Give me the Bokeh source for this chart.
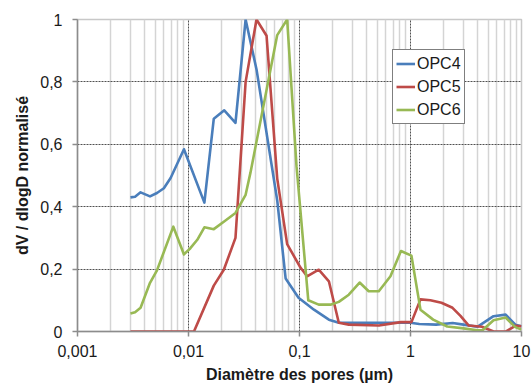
from bokeh.plotting import figure
from bokeh.models import Range1d, FixedTicker, CustomJSTickFormatter, Legend, LegendItem
from bokeh.embed import file_html
from bokeh.resources import INLINE

# ---- data (diameter in µm, normalised dV/dlogD) ----
opc4_d = [0.003, 0.0033, 0.0037, 0.0045, 0.0052, 0.006, 0.0069, 0.0091, 0.0139, 0.0169,
          0.021, 0.0265, 0.0327, 0.041, 0.063, 0.075, 0.098, 0.135, 0.184, 0.226,
          0.5, 1.0, 1.2, 1.7, 2.4, 3.0, 4.0, 5.6, 7.2, 8.8, 10.0]
opc4_v = [0.43, 0.432, 0.446, 0.433, 0.444, 0.459, 0.492, 0.584, 0.413, 0.682,
          0.709, 0.669, 1.0, 0.84, 0.42, 0.17, 0.108, 0.07, 0.038, 0.028,
          0.028, 0.028, 0.024, 0.022, 0.027, 0.022, 0.015, 0.049, 0.054, 0.022, 0.017]

opc5_d = [0.003, 0.0112, 0.0169, 0.0208, 0.0265, 0.0327, 0.041, 0.0505, 0.063, 0.0774,
          0.102, 0.117, 0.149, 0.184, 0.226, 0.278, 0.52, 0.82, 1.02, 1.23,
          1.51, 1.9, 2.39, 2.82, 3.35, 4.4, 5.6, 7.2, 8.8, 10.0]
opc5_v = [0.0, 0.0, 0.147, 0.198, 0.30, 0.80, 1.0, 0.948, 0.49, 0.28,
          0.205, 0.177, 0.198, 0.161, 0.028, 0.022, 0.019, 0.03, 0.03, 0.103,
          0.10, 0.092, 0.076, 0.05, 0.019, 0.015, 0.0, 0.0, 0.018, 0.017]

opc6_d = [0.003, 0.0033, 0.0037, 0.0045, 0.0052, 0.0073, 0.0091, 0.0104, 0.012, 0.0139,
          0.0169, 0.0208, 0.0265, 0.0327, 0.0362, 0.063, 0.0774, 0.094, 0.12, 0.149,
          0.19, 0.226, 0.278, 0.348, 0.42, 0.518, 0.66, 0.82, 1.02, 1.23,
          1.6, 2.14, 3.0, 4.0, 4.45, 5.6, 7.2, 8.8, 10.0]
opc6_v = [0.058, 0.062, 0.076, 0.156, 0.196, 0.336, 0.247, 0.267, 0.294, 0.334,
          0.328, 0.352, 0.38, 0.438, 0.51, 0.95, 1.0, 0.53, 0.10, 0.086,
          0.086, 0.095, 0.118, 0.157, 0.129, 0.129, 0.177, 0.258, 0.243, 0.07,
          0.038, 0.016, 0.01, 0.004, 0.004, 0.036, 0.045, 0.014, 0.006]

series_names = ["OPC4", "OPC5", "OPC6"]
series_colors = ["#4a7ebb", "#be4b48", "#98b954"]

x_tick_values = [0.001, 0.01, 0.1, 1, 10]
x_tick_labels = ["0,001", "0,01", "0,1", "1", "10"]
y_tick_values = [0, 0.2, 0.4, 0.6, 0.8, 1.0]
y_tick_labels = ["0", "0,2", "0,4", "0,6", "0,8", "1"]

FONT = "Liberation Sans"

p = figure(width=531, height=385, x_axis_type="log",
           x_range=Range1d(0.001, 10), y_range=Range1d(0, 1),
           output_backend="svg", toolbar_location=None,
           min_border_left=77, min_border_right=10, min_border_top=19, min_border_bottom=53)
p.background_fill_color = "white"
p.border_fill_color = "white"
p.outline_line_color = "#c8c8c8"
p.outline_line_width = 1.5

# grids
minor = []
for k in [0.001, 0.01, 0.1, 1]:
    for m in range(2, 10):
        minor.append(k * m)
p.xgrid.ticker = FixedTicker(ticks=[0.01, 0.1, 1], minor_ticks=minor)
p.xgrid.grid_line_color = "#505050"
p.xgrid.grid_line_dash = "2 1"
p.xgrid.grid_line_width = 1
p.xgrid.minor_grid_line_color = "#d4d4d4"
p.xgrid.minor_grid_line_width = 1.5
p.ygrid.ticker = FixedTicker(ticks=[0.2, 0.4, 0.6, 0.8])
p.ygrid.grid_line_color = "#505050"
p.ygrid.grid_line_dash = "2 1"
p.ygrid.grid_line_width = 1

label_js = """
for (let i = 0; i < vals.length; i++) {
  if (Math.abs(tick - vals[i]) <= 1e-9 * Math.max(1, Math.abs(vals[i])) ||
      (vals[i] > 0 && tick > 0 && Math.abs(Math.log10(tick) - Math.log10(vals[i])) < 1e-6)) {
    return labs[i];
  }
}
return "";
"""

xa = p.xaxis[0]
xa.ticker = FixedTicker(ticks=x_tick_values, minor_ticks=[])
xa.formatter = CustomJSTickFormatter(args=dict(vals=x_tick_values, labs=x_tick_labels), code=label_js)
ya = p.yaxis[0]
ya.ticker = FixedTicker(ticks=y_tick_values, minor_ticks=[])
ya.formatter = CustomJSTickFormatter(args=dict(vals=y_tick_values, labs=y_tick_labels), code=label_js)

for ax in (xa, ya):
    ax.axis_line_color = "#8c8c8c"
    ax.axis_line_width = 1.5
    ax.major_tick_line_color = "#8c8c8c"
    ax.major_tick_line_width = 1.5
    ax.major_tick_out = 5
    ax.major_tick_in = 0
    ax.minor_tick_line_color = None
    ax.major_label_text_font = FONT
    ax.major_label_text_font_size = "16px"
    ax.major_label_text_color = "#1a1a1a"
    ax.axis_label_text_font = FONT
    ax.axis_label_text_font_size = "16px"
    ax.axis_label_text_font_style = "bold"
    ax.axis_label_text_color = "#1a1a1a"

xa.axis_label = "Diamètre des pores (µm)"
xa.major_label_standoff = 8
xa.axis_label_standoff = 6
ya.axis_label = "dV / dlogD normalisé"
ya.major_label_standoff = 10
ya.axis_label_standoff = 6

renderers = []
for d, v, c in zip([opc4_d, opc5_d, opc6_d], [opc4_v, opc5_v, opc6_v], series_colors):
    r = p.line(d, v, line_color=c, line_width=2.6, line_join="round")
    renderers.append(r)

legend = Legend(items=[LegendItem(label=n, renderers=[r]) for n, r in zip(series_names, renderers)],
                location=(315, 207))
legend.border_line_color = "#000000"
legend.border_line_width = 1
legend.background_fill_color = "white"
legend.background_fill_alpha = 1
legend.padding = 3
legend.margin = 0
legend.spacing = 2
legend.glyph_width = 19
legend.glyph_height = 21
legend.label_height = 21
legend.label_standoff = 2
legend.label_text_font = FONT
legend.label_text_font_size = "16px"
legend.label_text_color = "#1a1a1a"
p.add_layout(legend)

open("out.html", "w").write(file_html(p, INLINE))
